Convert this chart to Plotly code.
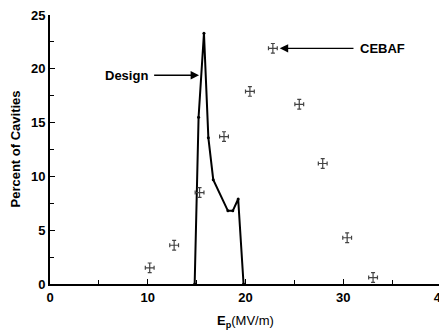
import plotly.graph_objects as go

# CEBAF measured distribution
cebaf_x = [10.2, 12.7, 15.3, 17.8, 20.45, 22.8, 25.5, 27.9, 30.4, 33.05]
cebaf_y = [1.5, 3.6, 8.5, 13.7, 17.9, 21.9, 16.7, 11.2, 4.3, 0.6]
err_x = 0.45
err_y = 0.45

# Design distribution
design_x = [14.8, 15.2, 15.75, 16.2, 16.7, 18.2, 18.7, 19.25, 19.8]
design_y = [0, 15.5, 23.3, 13.6, 9.7, 6.8, 6.8, 7.9, 0]

x_ticks = [0, 10, 20, 30, 40]
y_ticks = [0, 5, 10, 15, 20, 25]

font = "Liberation Sans, Arial, sans-serif"

fig = go.Figure()
fig.add_trace(go.Scatter(
    x=design_x, y=design_y, mode="lines+markers",
    line=dict(color="black", width=2),
    marker=dict(size=3, color="black"),
    showlegend=False, cliponaxis=False))
fig.add_trace(go.Scatter(
    x=cebaf_x, y=cebaf_y, mode="markers",
    marker=dict(size=1, color="#444"),
    error_x=dict(type="constant", value=err_x, color="#444", thickness=1.2, width=2),
    error_y=dict(type="constant", value=err_y, color="#444", thickness=1.2, width=2),
    showlegend=False))

# page body has an 8px margin; size/margins compensate so the plot area
# lands at page x 50..441, y 15..284
fig.update_layout(
    width=439, height=324,
    margin=dict(l=42, r=6, t=7, b=48, autoexpand=False),
    paper_bgcolor="white", plot_bgcolor="white",
    font=dict(family=font, size=13, color="black"),
    xaxis=dict(range=[0, 40], tickvals=x_ticks, ticks="inside", ticklen=5,
               tickwidth=1, tickcolor="black", ticklabeloverflow="allow",
               minor=dict(tickvals=[5, 15, 25, 35], ticks="inside", ticklen=4, tickcolor="black"),
               showline=True, linecolor="black", linewidth=2, showgrid=False, zeroline=False,
               tickfont=dict(family=font, size=13, color="black", weight="bold")),
    yaxis=dict(range=[0, 25], tickvals=y_ticks, ticks="inside", ticklen=5,
               tickwidth=1, tickcolor="black", ticklabeloverflow="allow",
               minor=dict(tickvals=[2.5, 7.5, 12.5, 17.5, 22.5], ticks="inside", ticklen=4, tickcolor="black"),
               showline=True, linecolor="black", linewidth=2, showgrid=False, zeroline=False,
               tickfont=dict(family=font, size=13, color="black", weight="bold")),
)

fig.add_annotation(x=15.25, y=19.4, ax=10.5, ay=19.4, xref="x", yref="y", axref="x", ayref="y",
                   showarrow=True, arrowhead=2, arrowsize=1.3, arrowwidth=1.3, arrowcolor="black", text="")
fig.add_annotation(x=10.25, y=19.4, xref="x", yref="y", text="<b>Design</b>", showarrow=False,
                   xanchor="right", font=dict(size=13, family=font))
fig.add_annotation(x=23.5, y=21.9, ax=31.2, ay=21.9, xref="x", yref="y", axref="x", ayref="y",
                   showarrow=True, arrowhead=2, arrowsize=1.3, arrowwidth=1.3, arrowcolor="black", text="")
fig.add_annotation(x=31.5, y=21.9, xref="x", yref="y", text="<b>CEBAF</b>", showarrow=False,
                   xanchor="left", font=dict(size=13, family=font))

fig.add_annotation(x=0.5, y=-0.141, xref="paper", yref="paper", yanchor="middle",
                   text="<b>E<sub>p</sub></b>(MV/m)", showarrow=False,
                   font=dict(size=13, family=font))
fig.add_annotation(x=-0.0895, y=0.5, xref="paper", yref="paper", textangle=-90,
                   xanchor="center", yanchor="middle",
                   text="<b>Percent of Cavities</b>", showarrow=False,
                   font=dict(size=13, family=font))

fig.write_html("out.html")
